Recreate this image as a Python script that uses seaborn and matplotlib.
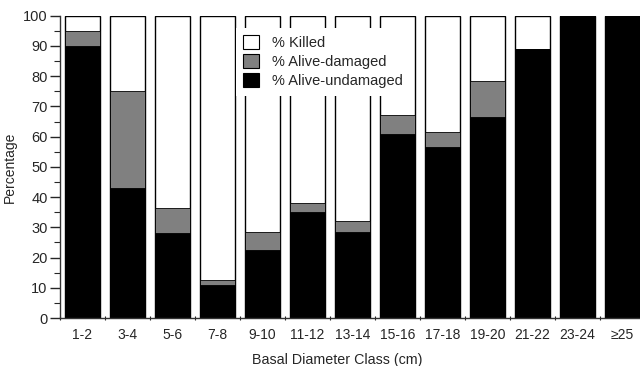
import matplotlib
matplotlib.use("Agg")
import matplotlib.pyplot as plt
import seaborn as sns
import pandas as pd
import numpy as np
from matplotlib.patches import Patch
from matplotlib.ticker import MultipleLocator, FixedLocator

classes = ["1-2", "3-4", "5-6", "7-8", "9-10", "11-12", "13-14",
           "15-16", "17-18", "19-20", "21-22", "23-24", "\u226525"]
undamaged = [90, 43, 28, 11, 22.5, 35, 28.5, 61, 56.5, 66.5, 89, 100, 100]
damaged = [5, 32, 8.5, 1.5, 6, 3, 3.5, 6, 5, 12, 0, 0, 0]
killed = [100 - u - d for u, d in zip(undamaged, damaged)]

df = pd.DataFrame({
    "cls": classes,
    "undamaged": undamaged,
    "cum_damaged": [u + d for u, d in zip(undamaged, damaged)],
    "cum_total": [u + d + k for u, d, k in zip(undamaged, damaged, killed)],
})

sns.set_theme(style="ticks")
plt.rcParams["font.family"] = ["Liberation Sans", "DejaVu Sans"]

fig = plt.figure(figsize=(6.4, 3.66), dpi=100)
ax = fig.add_axes([60 / 640, 1 - 318 / 366, 585 / 640, (318 - 15.7) / 366])

w = 0.78
gray = "#808080"
sns.barplot(data=df, x="cls", y="cum_total", color="white", edgecolor="black",
            linewidth=1.0, width=w, ax=ax, saturation=1)
sns.barplot(data=df, x="cls", y="cum_damaged", color=gray, edgecolor="black",
            linewidth=0.6, width=w, ax=ax, saturation=1)
sns.barplot(data=df, x="cls", y="undamaged", color="black", edgecolor="black",
            linewidth=0.6, width=w, ax=ax, saturation=1)

ax.set_xlim(-0.5, 12.5)
ax.set_ylim(0, 100)
ax.yaxis.set_major_locator(MultipleLocator(10))
ax.yaxis.set_minor_locator(MultipleLocator(5))
ax.xaxis.set_minor_locator(FixedLocator(np.arange(-0.5, 12.6, 1)))
ax.tick_params(axis="y", which="major", length=7, width=1, labelsize=10.5, pad=2, direction="out")
ax.tick_params(axis="y", which="minor", length=4, width=0.8, direction="out")
ax.tick_params(axis="x", which="major", length=0, labelsize=10, pad=7)
ax.tick_params(axis="x", which="minor", length=3, width=0.8, direction="inout")
sns.despine(ax=ax, top=True, right=True)
for s in ("left", "bottom"):
    ax.spines[s].set_linewidth(1.0)
    ax.spines[s].set_color("#333333")

ax.set_ylabel("Percentage", fontsize=10, labelpad=4)
ax.set_xlabel("Basal Diameter Class (cm)", fontsize=10.3)
ax.xaxis.set_label_coords((337 - 60) / 585, -0.115)

handles = [
    Patch(facecolor="white", edgecolor="black", linewidth=0.8, label="% Killed"),
    Patch(facecolor=gray, edgecolor="black", linewidth=0.8, label="% Alive-damaged"),
    Patch(facecolor="black", edgecolor="black", linewidth=0.8, label="% Alive-undamaged"),
]
leg = fig.legend(handles=handles, loc="upper left",
                 bbox_to_anchor=(236 / 640, 1 - 28 / 366),
                 bbox_transform=fig.transFigure, fontsize=10.5,
                 handlelength=1.1, handleheight=1.1, handletextpad=0.9,
                 labelspacing=0.28, borderpad=0.5, borderaxespad=0,
                 frameon=True, fancybox=False, framealpha=1)
leg.get_frame().set_facecolor("white")
leg.get_frame().set_edgecolor("none")

fig.savefig("out.png", dpi=100)
